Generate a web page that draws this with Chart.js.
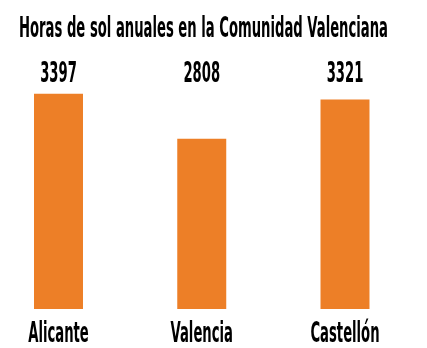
<!DOCTYPE html>
<html>
<head>
<meta charset="utf-8">
<script src="https://cdn.jsdelivr.net/npm/chart.js@4"></script>
<style>
  body { margin: 0; background: #fff; }
  canvas { display: block; }
</style>
</head>
<body>
<canvas id="sunChart" width="427" height="348"></canvas>
<script>
const chartTitle = 'Horas de sol anuales en la Comunidad Valenciana';
const regions = ['Alicante', 'Valencia', 'Castellón'];
const sunHours = [3397, 2808, 3321];

const yMin = 580;
const yMax = 3460;
const barColor = '#ED7F27';
const textFont = 'bold 28px "Liberation Sans Narrow", "DejaVu Sans Condensed", sans-serif';

// draws text squeezed horizontally, the original uses a very narrow font
function drawSqueezed(ctx, text, x, y, squeeze, align) {
    ctx.save();
    ctx.translate(x, y);
    ctx.scale(squeeze, 1);
    ctx.textAlign = align;
    ctx.textBaseline = 'alphabetic';
    ctx.fillText(text, 0, 0);
    ctx.restore();
}

const textPlugin = {
    id: 'textPlugin',
    afterDraw(chart) {
        const ctx = chart.ctx;
        ctx.save();
        ctx.font = textFont;
        ctx.fillStyle = '#000';
        const squeeze = 369 / ctx.measureText(chartTitle).width;
        drawSqueezed(ctx, chartTitle, 19, 36.5, squeeze, 'left');

        const xScale = chart.scales.x;
        const meta = chart.getDatasetMeta(0);
        meta.data.forEach((bar, i) => {
            drawSqueezed(ctx, String(sunHours[i]), bar.x, 81.5, squeeze, 'center');
            drawSqueezed(ctx, chart.data.labels[i], xScale.getPixelForTick(i), 341.5, squeeze, 'center');
        });
        ctx.restore();
    }
};

document.addEventListener("DOMContentLoaded", () => {
    const ctx = document.getElementById('sunChart').getContext('2d');

    const chart = new Chart(ctx, {
        type: 'bar',
        data: {
            labels: regions,
            datasets: [
                {
                    label: 'Horas de sol',
                    data: sunHours,
                    backgroundColor: barColor,
                    borderWidth: 0,
                    base: yMin,
                    clip: false,
                    categoryPercentage: 0.57,
                    barPercentage: 0.6
                }
            ]
        },
        options: {
            responsive: false,
            animation: false,
            devicePixelRatio: 1,
            layout: {
                padding: { top: 89, bottom: 39, left: 58.5, right: 82 }
            },
            scales: {
                x: {
                    display: false,
                    offset: false
                },
                y: {
                    display: false,
                    min: yMin,
                    max: yMax
                }
            },
            plugins: {
                legend: { display: false },
                tooltip: { enabled: false },
                title: { display: false }
            }
        },
        plugins: [textPlugin]
    });
});
</script>
</body>
</html>
